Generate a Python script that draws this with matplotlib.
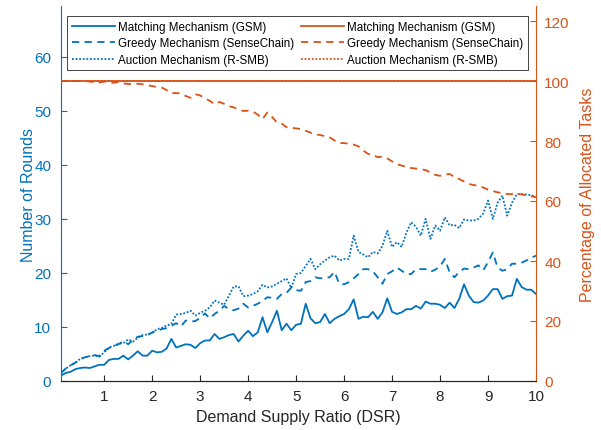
import numpy as np
import matplotlib.pyplot as plt

plt.rcParams['font.family'] = ['Liberation Sans', 'DejaVu Sans']

# demand supply ratio, 0.1 .. 10
dsr = np.round(np.arange(1, 101) * 0.1, 1)

# number of rounds (left axis)
rounds_gsm = [
    1.0, 1.5, 1.7, 2.2, 2.4, 2.5, 2.4, 2.7, 3.0, 3.0,
    3.9, 4.1, 4.1, 4.7, 4.0, 4.7, 5.5, 4.7, 4.7, 5.6,
    5.3, 5.4, 6.0, 7.8, 6.2, 6.5, 6.8, 6.7, 6.1, 7.0,
    7.5, 7.5, 8.7, 7.8, 8.1, 8.5, 8.7, 7.3, 8.4, 9.3,
    8.3, 9.0, 11.8, 9.0, 10.9, 13.0, 9.4, 10.6, 9.4, 10.4,
    10.6, 14.3, 11.6, 10.7, 10.9, 12.4, 10.7, 11.5, 12.0, 12.4,
    13.3, 15.1, 11.5, 11.9, 11.8, 12.8, 11.5, 12.7, 15.3, 12.8,
    12.4, 12.7, 13.3, 13.3, 13.9, 13.4, 14.7, 14.3, 14.3, 14.1,
    13.5, 14.5, 13.5, 15.2, 17.9, 15.8, 14.6, 14.5, 14.9, 15.8,
    17.0, 17.0, 15.2, 15.7, 15.8, 18.9, 17.4, 16.9, 16.9, 16.1,
]
rounds_greedy = [
    1.5, 2.3, 2.9, 3.4, 4.0, 4.4, 4.6, 4.8, 4.6, 5.6,
    6.1, 6.5, 6.8, 7.4, 6.8, 7.6, 8.2, 8.3, 8.5, 9.0,
    9.3, 9.6, 9.8, 10.2, 10.7, 10.1, 11.2, 11.0, 11.1, 11.7,
    12.5, 11.6, 12.4, 13.0, 13.9, 13.3, 13.1, 13.4, 14.3, 13.6,
    13.9, 14.3, 14.8, 15.5, 15.4, 15.2, 16.1, 16.3, 17.3, 16.8,
    16.7, 18.3, 18.5, 19.2, 19.0, 19.1, 19.2, 20.2, 18.0, 17.9,
    18.3, 19.0, 19.8, 20.7, 20.7, 20.3, 19.2, 18.0, 19.8, 20.3,
    21.0, 20.4, 19.8, 19.8, 20.7, 20.7, 20.7, 20.2, 20.6, 21.2,
    22.6, 20.1, 19.2, 20.2, 20.8, 20.7, 21.0, 21.4, 20.5, 22.0,
    23.8, 21.0, 20.4, 20.7, 21.7, 21.7, 21.9, 22.3, 22.8, 23.2,
]
rounds_auction = [
    1.5, 2.3, 2.9, 3.4, 4.1, 4.4, 4.6, 4.7, 4.5, 5.3,
    6.2, 6.5, 6.9, 7.0, 7.7, 7.3, 8.0, 8.5, 8.6, 8.9,
    9.6, 9.8, 10.3, 10.5, 12.3, 12.4, 12.6, 13.0, 12.1, 12.6,
    13.0, 13.6, 14.9, 14.5, 14.1, 15.8, 17.5, 17.5, 15.7, 15.8,
    16.1, 16.6, 17.8, 17.3, 17.5, 18.0, 18.5, 19.0, 17.2, 19.8,
    20.0, 21.3, 22.6, 20.7, 21.6, 22.3, 22.9, 23.2, 22.3, 22.6,
    22.6, 26.9, 23.9, 23.4, 22.9, 23.9, 23.6, 25.0, 27.8, 24.8,
    25.7, 24.8, 27.5, 29.4, 28.5, 26.9, 30.0, 26.3, 28.8, 27.8,
    30.3, 28.8, 28.9, 28.3, 29.9, 29.7, 29.7, 30.0, 31.0, 33.4,
    30.0, 33.0, 34.3, 30.6, 33.0, 34.6, 34.6, 34.5, 34.4, 34.0,
]

# percentage of allocated tasks (right axis)
alloc_gsm = [100.0] * 100
alloc_greedy = [
    100.0, 100.0, 100.0, 100.0, 100.0, 100.0, 99.8, 99.6, 99.5, 99.8,
    99.6, 99.4, 99.6, 99.2, 99.0, 99.0, 99.1, 98.9, 98.6, 98.3,
    98.0, 97.8, 97.0, 95.9, 96.0, 95.8, 95.0, 94.4, 95.6, 95.2,
    94.2, 93.4, 92.3, 93.0, 92.4, 91.6, 91.2, 90.6, 90.0, 90.1,
    89.8, 88.8, 87.3, 89.5, 88.0, 86.2, 85.8, 84.6, 84.4, 84.2,
    84.0, 83.4, 82.8, 82.2, 82.0, 81.6, 81.2, 80.2, 79.3, 79.3,
    79.1, 78.8, 78.2, 76.8, 75.7, 75.4, 74.6, 74.8, 74.2, 73.2,
    72.3, 71.8, 71.4, 71.0, 70.8, 70.6, 70.3, 69.5, 68.7, 68.4,
    68.8, 69.0, 68.0, 67.3, 66.5, 65.7, 65.3, 65.1, 64.5, 63.8,
    63.3, 62.9, 62.6, 62.3, 62.3, 62.3, 62.2, 61.9, 61.6, 61.2,
]
alloc_auction = [100.0] * 100

labels = ['Matching Mechanism (GSM)', 'Greedy Mechanism (SenseChain)',
          'Auction Mechanism (R-SMB)']

blue = '#0072BD'
orange = '#D95319'
gray = '#262626'

fig = plt.figure(figsize=(6.01, 4.31), dpi=100)
ax = fig.add_axes([61 / 601, 49 / 431, 475 / 601, 375 / 431])
ax2 = ax.twinx()

lw = 1.3
h1, = ax.plot(dsr, rounds_gsm, '-', color=blue, lw=lw)
h2, = ax.plot(dsr, rounds_greedy, '--', color=blue, lw=lw, dashes=(4, 3))
h3, = ax.plot(dsr, rounds_auction, ':', color=blue, lw=lw, dashes=(1, 1))
h4, = ax2.plot(dsr, alloc_gsm, '-', color=orange, lw=lw)
h5, = ax2.plot(dsr, alloc_greedy, '--', color=orange, lw=lw, dashes=(4, 3))
h6, = ax2.plot(dsr, alloc_auction, ':', color=orange, lw=lw, dashes=(1, 1))

ax.set_xlim(0.1, 10)
ax.set_ylim(0, 69.4)
ax2.set_ylim(0, 125)
ax.set_xticks(range(1, 11))
ax.set_yticks(range(0, 61, 10))
ax2.set_yticks(range(0, 121, 20))

for a in (ax, ax2):
    a.spines['top'].set_visible(False)
    a.spines['bottom'].set_color(gray)
ax.spines['left'].set_color(blue)
ax.spines['right'].set_visible(False)
ax2.spines['left'].set_visible(False)
ax2.spines['right'].set_color(orange)

ax.tick_params(axis='x', direction='in', length=4, colors=gray, labelsize=11, pad=6)
ax.tick_params(axis='y', direction='in', length=4, colors=blue, labelsize=11, pad=7)
ax2.tick_params(axis='y', direction='in', length=4, colors=orange, labelsize=11, pad=6)

ax.set_xlabel('Demand Supply Ratio (DSR)', fontsize=11.5, color=gray)
ax.set_ylabel('Number of Rounds', fontsize=11.5, color=blue, labelpad=-1)
ax2.set_ylabel('Percentage of Allocated Tasks', fontsize=11.5, color=orange, labelpad=7)

leg = ax2.legend([h1, h2, h3, h4, h5, h6], labels + labels, ncol=2,
                 loc='upper left', bbox_to_anchor=(0.0126, 0.973),
                 borderaxespad=0, fontsize=8.4, fancybox=False,
                 handlelength=3.7, handletextpad=0.25, labelspacing=0.38,
                 columnspacing=0.6, borderpad=0.4, framealpha=1)
leg.get_frame().set_edgecolor(gray)
leg.get_frame().set_linewidth(0.6)

fig.savefig('out.png', dpi=100)
